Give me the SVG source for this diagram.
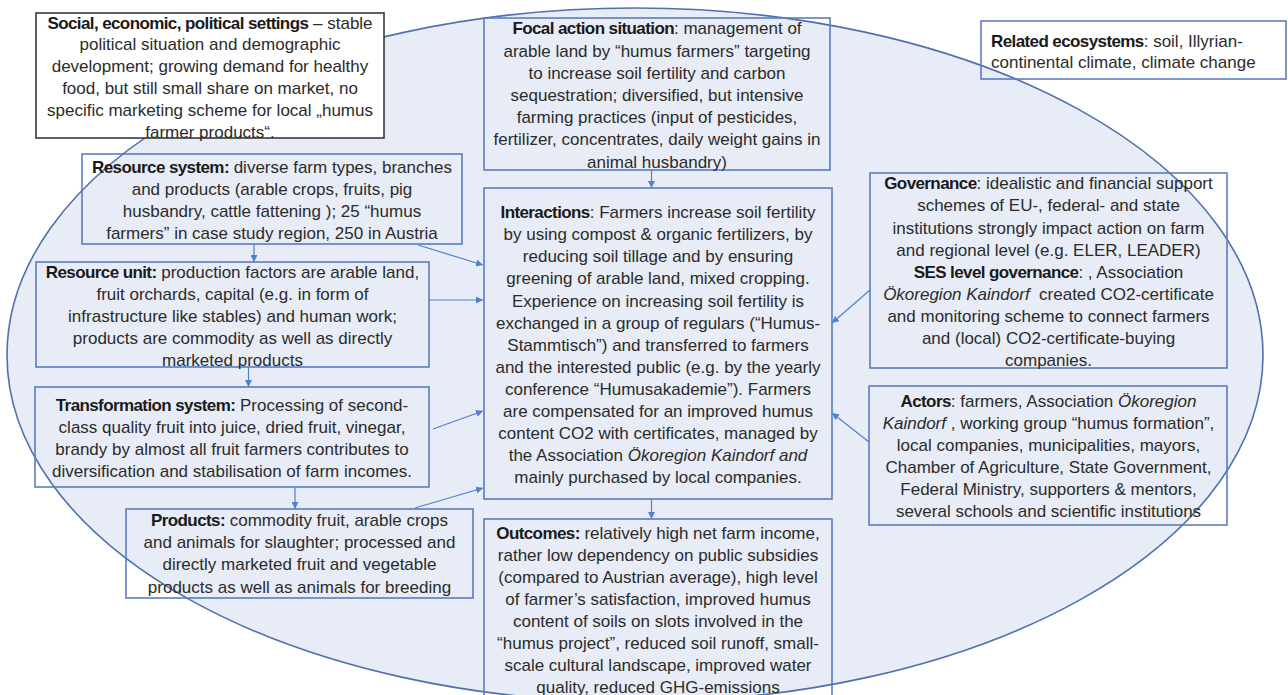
<svg xmlns="http://www.w3.org/2000/svg" width="1288" height="695" viewBox="0 0 1288 695">
<defs>
<style>
.t{font-family:"Liberation Sans",Arial,sans-serif;font-size:17px;fill:#2b2b2b;text-anchor:middle}
.l{text-anchor:start}
.b{font-weight:bold;fill:#1a1a1a;letter-spacing:-0.6px}
.i{font-style:italic}
.box{fill:none;stroke:#5a7dbf;stroke-width:1.6}
.conn{stroke:#4f81cf;stroke-width:1.2;fill:none;marker-end:url(#ah)}
</style>
<marker id="ah" viewBox="0 0 10 10" refX="10" refY="5" markerWidth="7" markerHeight="7" markerUnits="userSpaceOnUse" orient="auto">
<path d="M0,0 L10,5 L0,10 z" fill="#4f81cf"/>
</marker>
</defs>
<rect width="1288" height="695" fill="#ffffff"/>
<ellipse id="ses-ellipse" cx="635" cy="355" rx="628" ry="347" fill="#e7ecf6" stroke="#4f71ad" stroke-width="1.6"/>

<g id="related">
<rect class="box" x="981" y="21" width="305" height="58"/>
<text class="t l" x="991" y="46.7"><tspan class="b">Related ecosystems</tspan>: soil, Illyrian-<tspan x="991" dy="21.6">continental climate, climate change</tspan></text>
</g>

<g id="social">
<rect x="36" y="13" width="348" height="125" fill="#ffffff" stroke="#3a3a3a" stroke-width="1.6"/>
<text class="t" x="210" y="28.5"><tspan class="b">Social, economic, political settings</tspan> – stable<tspan x="210" dy="21.8">political situation and demographic</tspan><tspan x="210" dy="21.8">development; growing demand for healthy</tspan><tspan x="210" dy="21.8">food, but still small share on market, no</tspan><tspan x="210" dy="21.8">specific marketing scheme for local „humus</tspan><tspan x="210" dy="21.8">farmer products“.</tspan></text>
</g>

<g id="focal">
<rect class="box" x="484" y="18" width="346" height="152"/>
<text class="t" x="657" y="34.3"><tspan class="b">Focal action situation</tspan>: management of<tspan x="657" dy="22.2">arable land by “humus farmers” targeting</tspan><tspan x="657" dy="22.2">to increase soil fertility and carbon</tspan><tspan x="657" dy="22.2">sequestration; diversified, but intensive</tspan><tspan x="657" dy="22.2">farming practices (input of pesticides,</tspan><tspan x="657" dy="22.2">fertilizer, concentrates, daily weight gains in</tspan><tspan x="657" dy="22.2">animal husbandry)</tspan></text>
</g>

<g id="resource-system">
<rect class="box" x="82" y="154" width="380" height="90"/>
<text class="t" x="272" y="173.3"><tspan class="b">Resource system:</tspan> diverse farm types, branches<tspan x="272" dy="22">and products (arable crops, fruits, pig</tspan><tspan x="272" dy="22">husbandry, cattle fattening ); 25 “humus</tspan><tspan x="272" dy="22">farmers” in case study region, 250 in Austria</tspan></text>
</g>

<g id="resource-unit">
<rect class="box" x="36" y="262" width="393" height="105"/>
<text class="t" x="232.5" y="277.5"><tspan class="b">Resource unit:</tspan> production factors are arable land,<tspan x="232.5" dy="22">fruit orchards, capital (e.g. in form of</tspan><tspan x="232.5" dy="22">infrastructure like stables) and human work;</tspan><tspan x="232.5" dy="22">products are commodity as well as directly</tspan><tspan x="232.5" dy="22">marketed products</tspan></text>
</g>

<g id="transformation">
<rect class="box" x="35" y="387" width="394" height="100"/>
<text class="t" x="232" y="411"><tspan class="b">Transformation system:</tspan> Processing of second-<tspan x="232" dy="22">class quality fruit into juice, dried fruit, vinegar,</tspan><tspan x="232" dy="22">brandy by almost all fruit farmers contributes to</tspan><tspan x="232" dy="22">diversification and stabilisation of farm incomes.</tspan></text>
</g>

<g id="products">
<rect class="box" x="126" y="509" width="347" height="89"/>
<text class="t" x="299.5" y="526"><tspan class="b">Products:</tspan> commodity fruit, arable crops<tspan x="299.5" dy="22.2">and animals for slaughter; processed and</tspan><tspan x="299.5" dy="22.2">directly marketed fruit and vegetable</tspan><tspan x="299.5" dy="22.2">products as well as animals for breeding</tspan></text>
</g>

<g id="interactions">
<rect class="box" x="484" y="188" width="348" height="311"/>
<text class="t" x="658" y="218.3"><tspan class="b">Interactions</tspan>: Farmers increase soil fertility<tspan x="658" dy="22.06">by using compost &amp; organic fertilizers, by</tspan><tspan x="658" dy="22.06">reducing soil tillage and by ensuring</tspan><tspan x="658" dy="22.06">greening of arable land, mixed cropping.</tspan><tspan x="658" dy="22.06">Experience on increasing soil fertility is</tspan><tspan x="658" dy="22.06">exchanged in a group of regulars (“Humus-</tspan><tspan x="658" dy="22.06">Stammtisch”) and transferred to farmers</tspan><tspan x="658" dy="22.06">and the interested public (e.g. by the yearly</tspan><tspan x="658" dy="22.06">conference “Humusakademie”). Farmers</tspan><tspan x="658" dy="22.06">are compensated for an improved humus</tspan><tspan x="658" dy="22.06">content CO2 with certificates, managed by</tspan><tspan x="658" dy="22.06">the Association <tspan class="i">Ökoregion Kaindorf and</tspan></tspan><tspan x="658" dy="22.06">mainly purchased by local companies.</tspan></text>
</g>

<g id="outcomes">
<rect class="box" x="484" y="519" width="348" height="185"/>
<text class="t" x="658" y="538.7"><tspan class="b">Outcomes:</tspan> relatively high net farm income,<tspan x="658" dy="22">rather low dependency on public subsidies</tspan><tspan x="658" dy="22">(compared to Austrian average), high level</tspan><tspan x="658" dy="22">of farmer’s satisfaction, improved humus</tspan><tspan x="658" dy="22">content of soils on slots involved in the</tspan><tspan x="658" dy="22">“humus project”, reduced soil runoff, small-</tspan><tspan x="658" dy="22">scale cultural landscape, improved water</tspan><tspan x="658" dy="22">quality, reduced GHG-emissions</tspan></text>
</g>

<g id="governance">
<rect class="box" x="870" y="173" width="357" height="195"/>
<text class="t" x="1048.5" y="189.3"><tspan class="b">Governance</tspan>: idealistic and financial support<tspan x="1048.5" dy="22.1">schemes of EU-, federal- and state</tspan><tspan x="1048.5" dy="22.1">institutions strongly impact action on farm</tspan><tspan x="1048.5" dy="22.1">and regional level (e.g. ELER, LEADER)</tspan><tspan x="1048.5" dy="22.1"><tspan class="b">SES level governance</tspan>: , Association</tspan><tspan x="1048.5" dy="22.1"><tspan class="i">Ökoregion Kaindorf</tspan>&#160; created CO2-certificate</tspan><tspan x="1048.5" dy="22.1">and monitoring scheme to connect farmers</tspan><tspan x="1048.5" dy="22.1">and (local) CO2-certificate-buying</tspan><tspan x="1048.5" dy="22.1">companies.</tspan></text>
</g>

<g id="actors">
<rect class="box" x="869" y="386" width="358" height="139"/>
<text class="t" x="1048.5" y="407"><tspan class="b">Actors</tspan>: farmers, Association <tspan class="i">Ökoregion</tspan><tspan x="1048.5" dy="22"><tspan class="i">Kaindorf</tspan> , working group “humus formation”,</tspan><tspan x="1048.5" dy="22">local companies, municipalities, mayors,</tspan><tspan x="1048.5" dy="22">Chamber of Agriculture, State Government,</tspan><tspan x="1048.5" dy="22">Federal Ministry, supporters &amp; mentors,</tspan><tspan x="1048.5" dy="22">several schools and scientific institutions</tspan></text>
</g>

<g id="connectors">
<line class="conn" x1="651.5" y1="170" x2="651.5" y2="188"/>
<line class="conn" x1="254" y1="244" x2="254" y2="262"/>
<line class="conn" x1="418" y1="245" x2="483" y2="265"/>
<line class="conn" x1="429" y1="300" x2="483" y2="300"/>
<line class="conn" x1="248.5" y1="367" x2="248.5" y2="387"/>
<line class="conn" x1="433" y1="429" x2="483" y2="411"/>
<line class="conn" x1="295" y1="487" x2="295" y2="509"/>
<line class="conn" x1="415" y1="508" x2="483" y2="488"/>
<line class="conn" x1="651.5" y1="499" x2="651.5" y2="519"/>
<line class="conn" x1="870" y1="290" x2="832" y2="323"/>
<line class="conn" x1="869" y1="442" x2="832" y2="413"/>
</g>
</svg>
